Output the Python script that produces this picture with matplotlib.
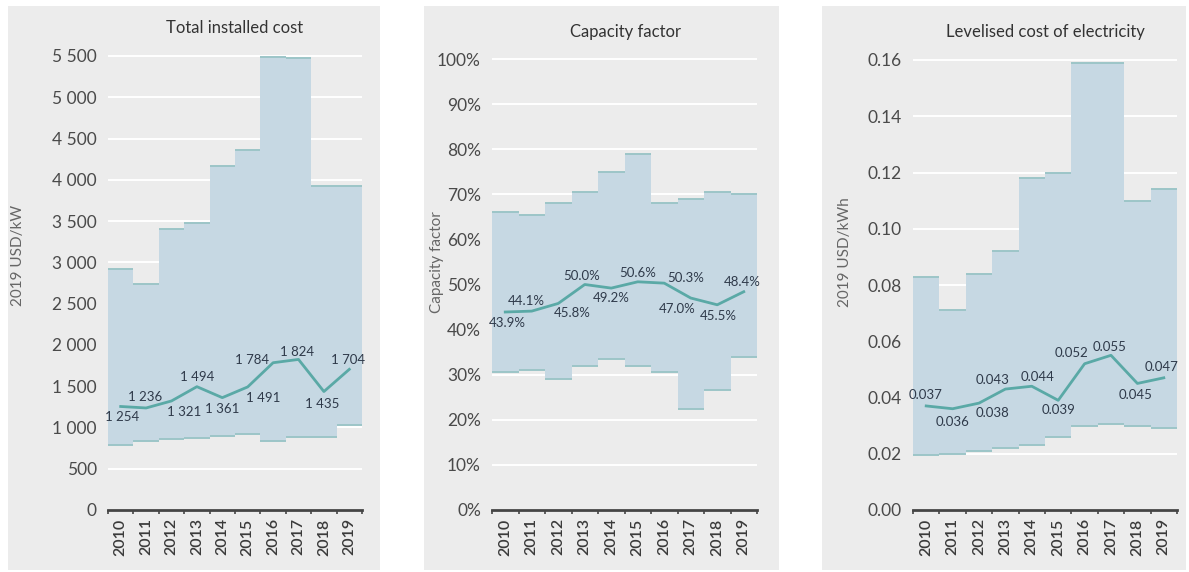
import matplotlib
matplotlib.use("Agg")
import matplotlib.pyplot as plt
from matplotlib.patches import Rectangle
from matplotlib.ticker import FuncFormatter, FixedLocator
import numpy as np

plt.rcParams['font.family'] = ['Lato', 'DejaVu Sans']

years = [2010, 2011, 2012, 2013, 2014, 2015, 2016, 2017, 2018, 2019]

# Total installed cost, 2019 USD/kW
cost_high = [2920, 2740, 3400, 3480, 4170, 4360, 5490, 5480, 3930, 3920]
cost_low = [790, 830, 860, 870, 900, 920, 830, 890, 890, 1030]
cost_avg = [1254, 1236, 1321, 1494, 1361, 1491, 1784, 1824, 1435, 1704]

# Capacity factor, %
cf_high = [66.0, 65.5, 68.0, 70.5, 75.0, 79.0, 68.0, 69.0, 70.5, 70.0]
cf_low = [30.5, 31.0, 29.0, 32.0, 33.5, 32.0, 30.5, 22.5, 26.5, 34.0]
cf_avg = [43.9, 44.1, 45.8, 50.0, 49.2, 50.6, 50.3, 47.0, 45.5, 48.4]

# Levelised cost of electricity, 2019 USD/kWh
lcoe_high = [0.083, 0.071, 0.084, 0.092, 0.118, 0.120, 0.159, 0.159, 0.110, 0.114]
lcoe_low = [0.0195, 0.020, 0.021, 0.022, 0.023, 0.026, 0.030, 0.0305, 0.030, 0.029]
lcoe_avg = [0.037, 0.036, 0.038, 0.043, 0.044, 0.039, 0.052, 0.055, 0.045, 0.047]

FILL = '#c6d8e3'
EDGE = '#9cc5c8'
LINE = '#5aa9a6'
PANEL = '#ececec'
TXT = '#2f3a4a'

W, H = 1189, 572
fig = plt.figure(figsize=(W / 100, H / 100), dpi=100)
fig.patch.set_facecolor('white')


def px_box(x0, x1, y_top, y_bot):
    return [x0 / W, 1 - y_bot / H, (x1 - x0) / W, (y_bot - y_top) / H]


def panel(x0, x1):
    fig.patches.append(Rectangle((x0 / W, 1 - 570 / H), (x1 - x0) / W, 564 / H,
                                 transform=fig.transFigure, facecolor=PANEL,
                                 edgecolor='none', zorder=-5))


def draw(ax, high, low, avg, ymax, ticks, fmt, labels, offsets):
    x = np.arange(len(years))
    high = np.array(high)
    low = np.array(low)
    ax.set_facecolor('none')
    for t in ticks:
        ax.axhline(t, color='white', lw=1.4, zorder=1)
    ax.bar(x, high - low, bottom=low, width=1.0, color=FILL, zorder=2, linewidth=0)
    ax.hlines(high, x - 0.5, x + 0.5, color=EDGE, lw=1.4, zorder=3)
    ax.hlines(low, x - 0.5, x + 0.5, color=EDGE, lw=1.4, zorder=3)
    ax.plot(x, avg, color=LINE, lw=2, zorder=4)
    for xi, v, lab, (dx, dy) in zip(x, avg, labels, offsets):
        ax.annotate(lab, (xi, v), xytext=(dx, dy), textcoords='offset pixels',
                    ha='center', va='center', fontsize=9.5, color=TXT, zorder=5)
    ax.set_xlim(-0.5, len(years) - 0.5)
    ax.set_ylim(0, ymax)
    ax.set_yticks(ticks)
    ax.yaxis.set_major_formatter(FuncFormatter(fmt))
    ax.set_xticks(x)
    ax.set_xticklabels([str(y) for y in years], rotation=90, fontsize=11.5,
                       color='#3a3a3a', fontweight='semibold')
    ax.xaxis.set_minor_locator(FixedLocator(np.arange(-0.5, len(years), 1.0)))
    ax.tick_params(axis='x', which='major', length=0, pad=6)
    ax.tick_params(axis='x', which='minor', length=3, width=1.2, color='#444444')
    ax.tick_params(axis='y', length=0, labelsize=12.5, labelcolor='#4a4a4a', pad=8)
    for s in ['top', 'right', 'left']:
        ax.spines[s].set_visible(False)
    ax.spines['bottom'].set_color('#444444')
    ax.spines['bottom'].set_linewidth(2)
    ax.spines['bottom'].set_zorder(6)


panel(8, 380)
panel(424, 779)
panel(822, 1186)

# Total installed cost
ax1 = fig.add_axes(px_box(108, 362, 510 - 5600 * 0.08255, 510))
draw(ax1, cost_high, cost_low, cost_avg, 5600, list(range(0, 5501, 500)),
     lambda v, p: f"{int(v):,}".replace(',', ' '),
     [f"{v:,}".replace(',', ' ') for v in cost_avg],
     [(1, -11), (-1, 11), (13, -11), (0, 10), (0, -11), (15, -11),
      (-21, 3), (-1, 7), (-2, -12), (-1, 9)])
fig.text(235 / W, 1 - 28 / H, 'Total installed cost', ha='center', va='center',
         fontsize=12, color='#333333')
fig.text(18 / W, 1 - 255 / H, '2019 USD/kW', rotation=90, ha='center', va='center',
         fontsize=11, color='#666666')

# Capacity factor
ax2 = fig.add_axes(px_box(492, 757, 510 - 102 * 4.51, 510))
draw(ax2, cf_high, cf_low, cf_avg, 102, list(range(0, 101, 10)),
     lambda v, p: f"{int(v)}%",
     [f"{v:.1f}%" for v in cf_avg],
     [(2, -11), (-5, 10), (14, -10), (-3, 9), (0, -10), (0, 9),
      (21, 5), (-14, -11), (1, -11), (-1, 10)])
fig.text(625 / W, 1 - 32 / H, 'Capacity factor', ha='center', va='center',
         fontsize=12, color='#333333')
fig.text(437 / W, 1 - 262 / H, 'Capacity factor', rotation=90, ha='center', va='center',
         fontsize=11, color='#666666')

# Levelised cost of electricity
ax3 = fig.add_axes(px_box(913, 1177, 510 - 0.163 * 2812.5, 510))
draw(ax3, lcoe_high, lcoe_low, lcoe_avg, 0.163, [i * 0.02 for i in range(9)],
     lambda v, p: f"{v:.2f}",
     [f"{v:.3f}" for v in lcoe_avg],
     [(-1, 11), (0, -13), (14, -10), (-13, 9), (6, 9), (0, -10),
      (-13, 11), (-1, 8), (-2, -12), (-2, 11)])
fig.text(1045 / W, 1 - 32 / H, 'Levelised cost of electricity', ha='center', va='center',
         fontsize=12, color='#333333')
fig.text(845 / W, 1 - 252 / H, '2019 USD/kWh', rotation=90, ha='center', va='center',
         fontsize=11, color='#666666')

fig.savefig('out.png', dpi=100, facecolor='white')
